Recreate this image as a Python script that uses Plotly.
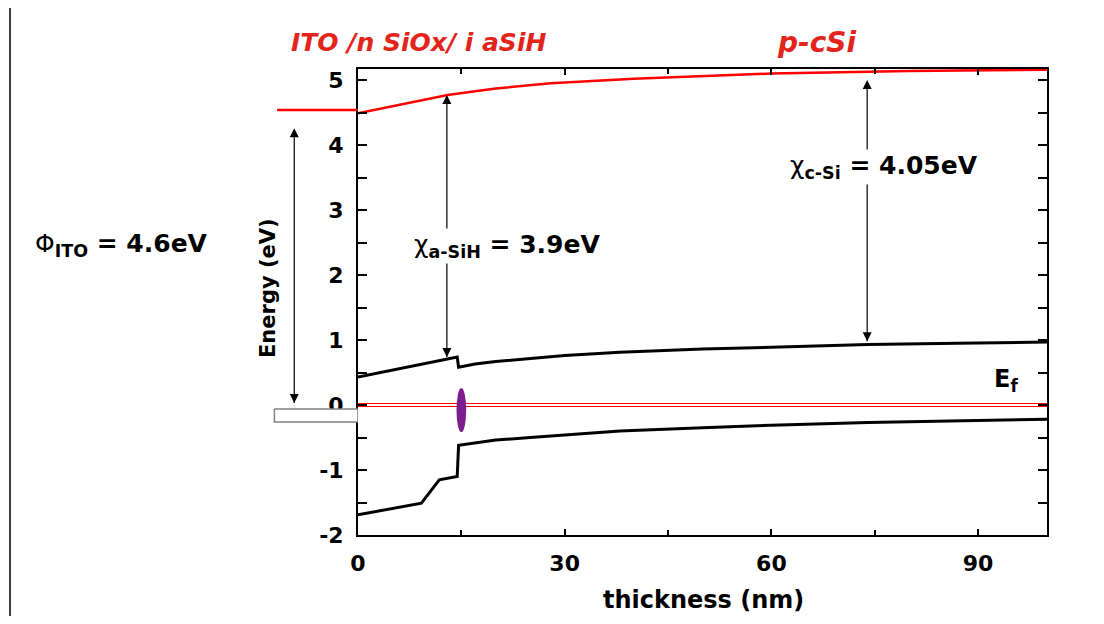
import plotly.graph_objects as go

# ---------------- data ----------------
vac_x = [0, 13, 20, 28, 40, 50, 60, 80, 100]
vac_e = [4.49, 4.77, 4.87, 4.95, 5.02, 5.06, 5.10, 5.14, 5.16]

cb_x = [0, 6.4, 14.4, 14.6, 17, 20, 25, 30, 38, 50, 60, 74, 87, 100]
cb_e = [0.43, 0.57, 0.74, 0.58, 0.63, 0.67, 0.72, 0.76, 0.81, 0.86, 0.89, 0.93, 0.95, 0.97]

vb_x = [0, 9.2, 11.8, 14.4, 14.6, 17, 20, 25, 30, 38, 50, 60, 74, 87, 100]
vb_e = [-1.69, -1.51, -1.15, -1.10, -0.62, -0.58, -0.54, -0.50, -0.46, -0.40, -0.35, -0.31, -0.27, -0.24, -0.22]

ef_x = [0, 100]
ef_e = [0, 0]

ito_x = [-11.8, 0]
ito_e = [4.54, 4.54]

ito_box_x = [-12.2, 0, 0, -12.2, -12.2]
ito_box_e = [-0.06, -0.06, -0.26, -0.26, -0.06]

defect_x = [14.3, 15.7]
defect_e = [-0.42, 0.26]

# double arrows: x position, lower tip, upper tip
phi_arrow = [-9.3, 0.03, 4.26]
asi_arrow = [12.9, 0.74, 4.77]
csi_arrow = [73.9, 0.98, 5.0]

x_ticks = [0, 30, 60, 90]
y_ticks = [-2, -1, 0, 1, 2, 3, 4, 5]

FONT = "DejaVu Sans"
RED_TXT = "#e3241b"

fig = go.Figure()

# ITO side (left sub-panel)
fig.add_trace(go.Scatter(x=ito_box_x, y=ito_box_e, xaxis="x2", yaxis="y", mode="lines",
                         fill="toself", fillcolor="white",
                         line=dict(color="#808080", width=1.5), hoverinfo="skip"))
fig.add_trace(go.Scatter(x=ito_x, y=ito_e, xaxis="x2", yaxis="y", mode="lines",
                         line=dict(color="#ff0000", width=2.5), hoverinfo="skip"))

# main bands
fig.add_trace(go.Scatter(x=vac_x, y=vac_e, mode="lines", line=dict(color="#ff0000", width=2.5)))
fig.add_trace(go.Scatter(x=cb_x, y=cb_e, mode="lines", line=dict(color="black", width=3)))
fig.add_trace(go.Scatter(x=vb_x, y=vb_e, mode="lines", line=dict(color="black", width=3)))
fig.add_trace(go.Scatter(x=ef_x, y=ef_e, mode="lines", line=dict(color="#ff0000", width=4)))
fig.add_trace(go.Scatter(x=ef_x, y=ef_e, mode="lines", line=dict(color="white", width=1.8)))

fig.add_shape(type="circle", xref="x", yref="y",
              x0=defect_x[0], x1=defect_x[1], y0=defect_e[0], y1=defect_e[1],
              fillcolor="#7d1d8e", line=dict(width=0))


def add_arrow(spec, xaxis="x"):
    x, lo, hi = spec
    fig.add_trace(go.Scatter(
        x=[x, x], y=[lo, hi], xaxis=xaxis, yaxis="y", mode="lines+markers",
        line=dict(color="black", width=1.2),
        marker=dict(symbol=["arrow-down", "arrow-up"], size=9, color="black"),
        cliponaxis=False, hoverinfo="skip"))


add_arrow(phi_arrow, "x2")
add_arrow(asi_arrow)
add_arrow(csi_arrow)

# page border line on the left
fig.add_shape(type="line", xref="paper", yref="paper", x0=-0.3398, x1=-0.3398,
              y0=1.131, y1=-0.191, line=dict(color="black", width=1.5))

ann = [
    dict(x=0.1886, y=1.0558, xref="paper", yref="paper", showarrow=False,
         xanchor="center", yanchor="middle",
         text="<b><i>ITO /n SiOx/ i aSiH</i></b>",
         font=dict(family=FONT, size=25, color=RED_TXT)),
    dict(x=0.7016, y=1.0558, xref="paper", yref="paper", showarrow=False,
         xanchor="center", yanchor="middle",
         text="<b><i>p-cSi</i></b>",
         font=dict(family=FONT, size=28, color=RED_TXT)),
    dict(x=-0.31, y=0.622, xref="paper", yref="paper", showarrow=False,
         xanchor="left", yanchor="middle",
         text="Φ<sub><b>ITO</b></sub><b> = 4.6eV</b>",
         font=dict(family=FONT, size=25, color="black")),
    dict(x=7.8, y=2.45, xref="x", yref="y", showarrow=False,
         xanchor="left", yanchor="middle", bgcolor="white",
         text="χ<sub><b>a-SiH</b></sub><b> = 3.9eV</b>",
         font=dict(family=FONT, size=25, color="black")),
    dict(x=62.4, y=3.66, xref="x", yref="y", showarrow=False,
         xanchor="left", yanchor="middle", bgcolor="white",
         text="χ<sub><b>c-Si</b></sub><b> = 4.05eV</b>",
         font=dict(family=FONT, size=25, color="black")),
    dict(x=92.0, y=0.38, xref="x", yref="y", showarrow=False,
         xanchor="left", yanchor="middle",
         text="<b>E<sub>f</sub></b>",
         font=dict(family=FONT, size=24, color="black")),
    dict(x=-0.0065, y=0.530, xref="paper", yref="paper", showarrow=False, textangle=-90,
         xanchor="center", yanchor="middle",
         text="<b>Energy (eV)</b>", font=dict(family=FONT, size=21, color="black")),
    dict(x=0.5556, y=-0.140, xref="paper", yref="paper", showarrow=False,
         xanchor="center", yanchor="middle",
         text="<b>thickness (nm)</b>", font=dict(family=FONT, size=24, color="black")),
]

fig.update_layout(
    width=1088, height=608,
    margin=dict(l=265, r=49, t=61, b=81),
    paper_bgcolor="white", plot_bgcolor="white",
    showlegend=False,
    annotations=ann,
    xaxis=dict(domain=[0.1098, 1], range=[0, 100], tickvals=x_ticks,
               ticktext=[f"<b>{v}</b>" for v in x_ticks],
               ticks="inside", ticklen=6, tickwidth=1.5, tickcolor="black",
               minor=dict(dtick=15, tick0=0, ticks="inside", ticklen=5, tickwidth=1.5, tickcolor="black"),
               showline=True, linecolor="black", linewidth=2, mirror="ticks",
               showgrid=False, zeroline=False, ticklabelstandoff=8,
               tickfont=dict(family=FONT, size=22, color="black"), anchor="y"),
    xaxis2=dict(domain=[0, 0.1098], range=[-12.4, 0], visible=False, anchor="y"),
    yaxis=dict(range=[-2, 5.17], tickvals=y_ticks,
               ticktext=[f"<b>{v}</b>" for v in y_ticks],
               ticks="inside", ticklen=9, tickwidth=1.5, tickcolor="black",
               minor=dict(dtick=0.5, tick0=0, ticks="inside", ticklen=9, tickwidth=1.5, tickcolor="black"),
               showline=True, linecolor="black", linewidth=2, mirror="ticks",
               showgrid=False, zeroline=False, ticklabelstandoff=8,
               tickfont=dict(family=FONT, size=22, color="black"), anchor="x"),
)

fig.write_html("out.html")
